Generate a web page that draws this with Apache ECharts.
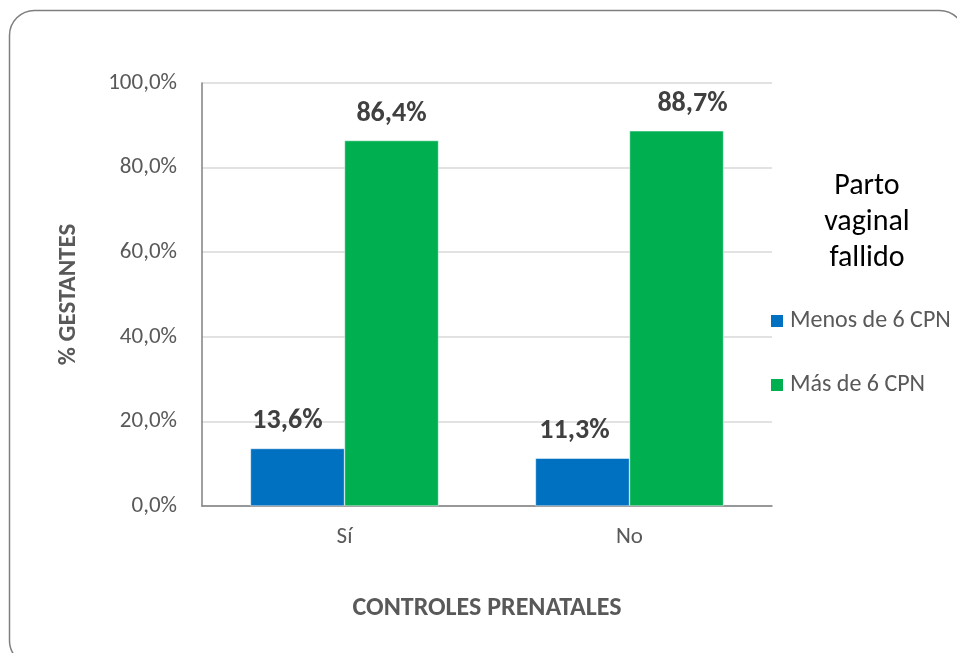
<!DOCTYPE html>
<html>
<head>
<meta charset="utf-8">
<script src="https://cdn.jsdelivr.net/npm/echarts@6/dist/echarts.min.js"></script>
<style>
html,body{margin:0;padding:0;background:#fff;}
#c{width:957px;height:653px;}
</style>
</head>
<body>
<div id="c"></div>
<script>
var categories = ['Sí', 'No'];
var menosValues = [13.6, 11.3];
var masValues = [86.4, 88.7];
var seriesNames = ['Menos de 6 CPN', 'Más de 6 CPN'];
var yTicks = [0, 20, 40, 60, 80, 100];
var legendTitle = 'Parto\nvaginal\nfallido';

var FONT = 'Carlito, Lato, "Open Sans", sans-serif';
function pct(v, d) { return v.toFixed(d).replace('.', ',') + '%'; }

var chart = echarts.init(document.getElementById('c'));
var labelBase = {
  show: true, position: 'top', distance: 13,
  fontFamily: FONT, fontSize: 28, fontWeight: 'bold', color: '#404040',
  formatter: function (p) { return pct(p.value, 1); }
};
var menosOffsets = [[-10, 0], [-8, 0]];
var masOffsets = [[0, 0], [16, 0]];

chart.setOption({
  animation: false,
  backgroundColor: '#fff',
  textStyle: { fontFamily: FONT },
  graphic: [{
    type: 'rect', silent: true,
    shape: { x: 9.5, y: 10.5, width: 955, height: 655, r: 25 },
    style: { fill: 'none', stroke: '#7f7f7f', lineWidth: 1.5 }
  }],
  title: {
    text: legendTitle, left: 867, top: 168, textAlign: 'center', padding: 0,
    textStyle: { fontFamily: FONT, fontSize: 30, fontWeight: 'normal', color: '#000', lineHeight: 36 }
  },
  legend: {
    orient: 'vertical', left: 769, top: 309, padding: 0, itemWidth: 14, itemHeight: 14, itemGap: 40,
    icon: 'rect', data: seriesNames,
    textStyle: { fontFamily: FONT, fontSize: 24, color: '#595959', padding: [0, 0, 0, 1] }
  },
  grid: { left: 202, top: 83, width: 570, height: 423, containLabel: false },
  xAxis: {
    type: 'category', data: categories,
    axisLine: { lineStyle: { color: '#808080', width: 1.5 } },
    axisTick: { show: false },
    axisLabel: { fontFamily: FONT, fontSize: 23, color: '#595959', margin: 20 },
    name: 'CONTROLES PRENATALES', nameLocation: 'middle', nameGap: 89,
    nameTextStyle: { fontFamily: FONT, fontSize: 26, fontWeight: 'bold', color: '#595959' }
  },
  yAxis: {
    type: 'value', min: 0, max: 100, interval: 20,
    axisLine: { show: true, lineStyle: { color: '#808080', width: 1.5 } },
    axisTick: { show: false },
    splitLine: { lineStyle: { color: '#d9d9d9', width: 1.5 } },
    axisLabel: {
      fontFamily: FONT, fontSize: 23, color: '#595959', margin: 25,
      formatter: function (v) { return yTicks.indexOf(v) >= 0 ? pct(v, 1) : ''; }
    },
    name: '% GESTANTES', nameLocation: 'middle', nameGap: 121, nameRotate: 90,
    nameTextStyle: { fontFamily: FONT, fontSize: 25, fontWeight: 'bold', color: '#595959' }
  },
  series: [{
    name: seriesNames[0], type: 'bar', barGap: '0%', barCategoryGap: '34%',
    itemStyle: { color: '#0070C0', borderColor: '#ffffff', borderWidth: 0.5 },
    data: menosValues.map(function (v, i) { return { value: v, label: { offset: menosOffsets[i] } }; }),
    label: labelBase
  }, {
    name: seriesNames[1], type: 'bar', barGap: '0%', barCategoryGap: '34%',
    itemStyle: { color: '#00B050', borderColor: '#ffffff', borderWidth: 0.5 },
    data: masValues.map(function (v, i) { return { value: v, label: { offset: masOffsets[i] } }; }),
    label: labelBase
  }]
});
</script>
</body>
</html>
